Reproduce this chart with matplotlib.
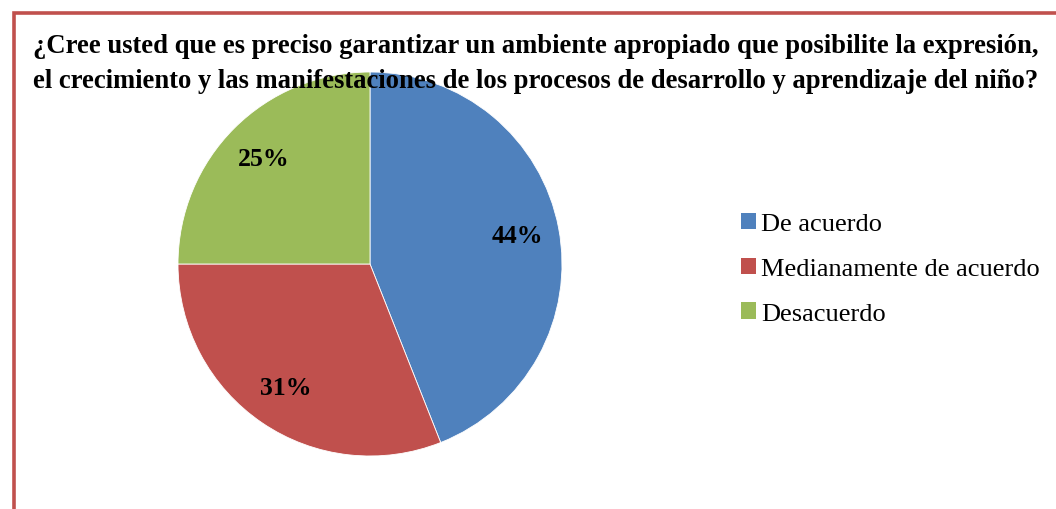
import matplotlib.pyplot as plt
from matplotlib.patches import Patch
from matplotlib.lines import Line2D

# data
categorias = ['De acuerdo', 'Medianamente de acuerdo', 'Desacuerdo']
porcentajes = [44, 31, 25]
colores = ['#4F81BD', '#C0504D', '#9BBB59']
titulo = ('¿Cree usted que es preciso garantizar un ambiente apropiado que posibilite la expresión,\n'
          'el crecimiento y las manifestaciones de los procesos de desarrollo y aprendizaje del niño?')

plt.rcParams['font.family'] = ['Liberation Serif', 'DejaVu Serif']

W, H = 1056, 510
fig = plt.figure(figsize=(W / 100, H / 100), dpi=100)

# pie centred at (370, 265) px, radius 192 px
cx, cy, r = 370, 265, 192
ax = fig.add_axes([(cx - r) / W, (H - cy - r) / H, 2 * r / W, 2 * r / H])
wedges, textos, autotextos = ax.pie(porcentajes, colors=colores, startangle=90, counterclock=False,
                                    autopct='%1.0f%%', pctdistance=0.78,
                                    wedgeprops=dict(edgecolor='white', linewidth=0.6))
for t in autotextos:
    t.set_fontsize(18.5)
    t.set_fontweight('bold')
ax.set_xlim(-1, 1)
ax.set_ylim(-1, 1)
ax.set_aspect('equal')

# red frame (only left and top visible in the crop)
x0, y0 = 13.5 / W, 1 - 13.5 / H
fig.add_artist(Line2D([x0, x0, 1.01], [-0.01, y0, y0], transform=fig.transFigure,
                      color='#C0504D', linewidth=2.6, solid_joinstyle='miter'))

fig.text(536 / W, 1 - 64 / H, titulo, ha='center', va='center', fontsize=19.2,
         fontweight='bold', linespacing=1.5, zorder=10)

handles = [Patch(facecolor=c, edgecolor='none') for c in colores]
fig.legend(handles, categorias, loc='upper left', bbox_to_anchor=(730 / W, 1 - 203 / H),
           frameon=False, fontsize=19, handlelength=0.58, handleheight=0.58,
           handletextpad=0.2, labelspacing=0.85, borderaxespad=0)

fig.savefig('out.png', dpi=100)
